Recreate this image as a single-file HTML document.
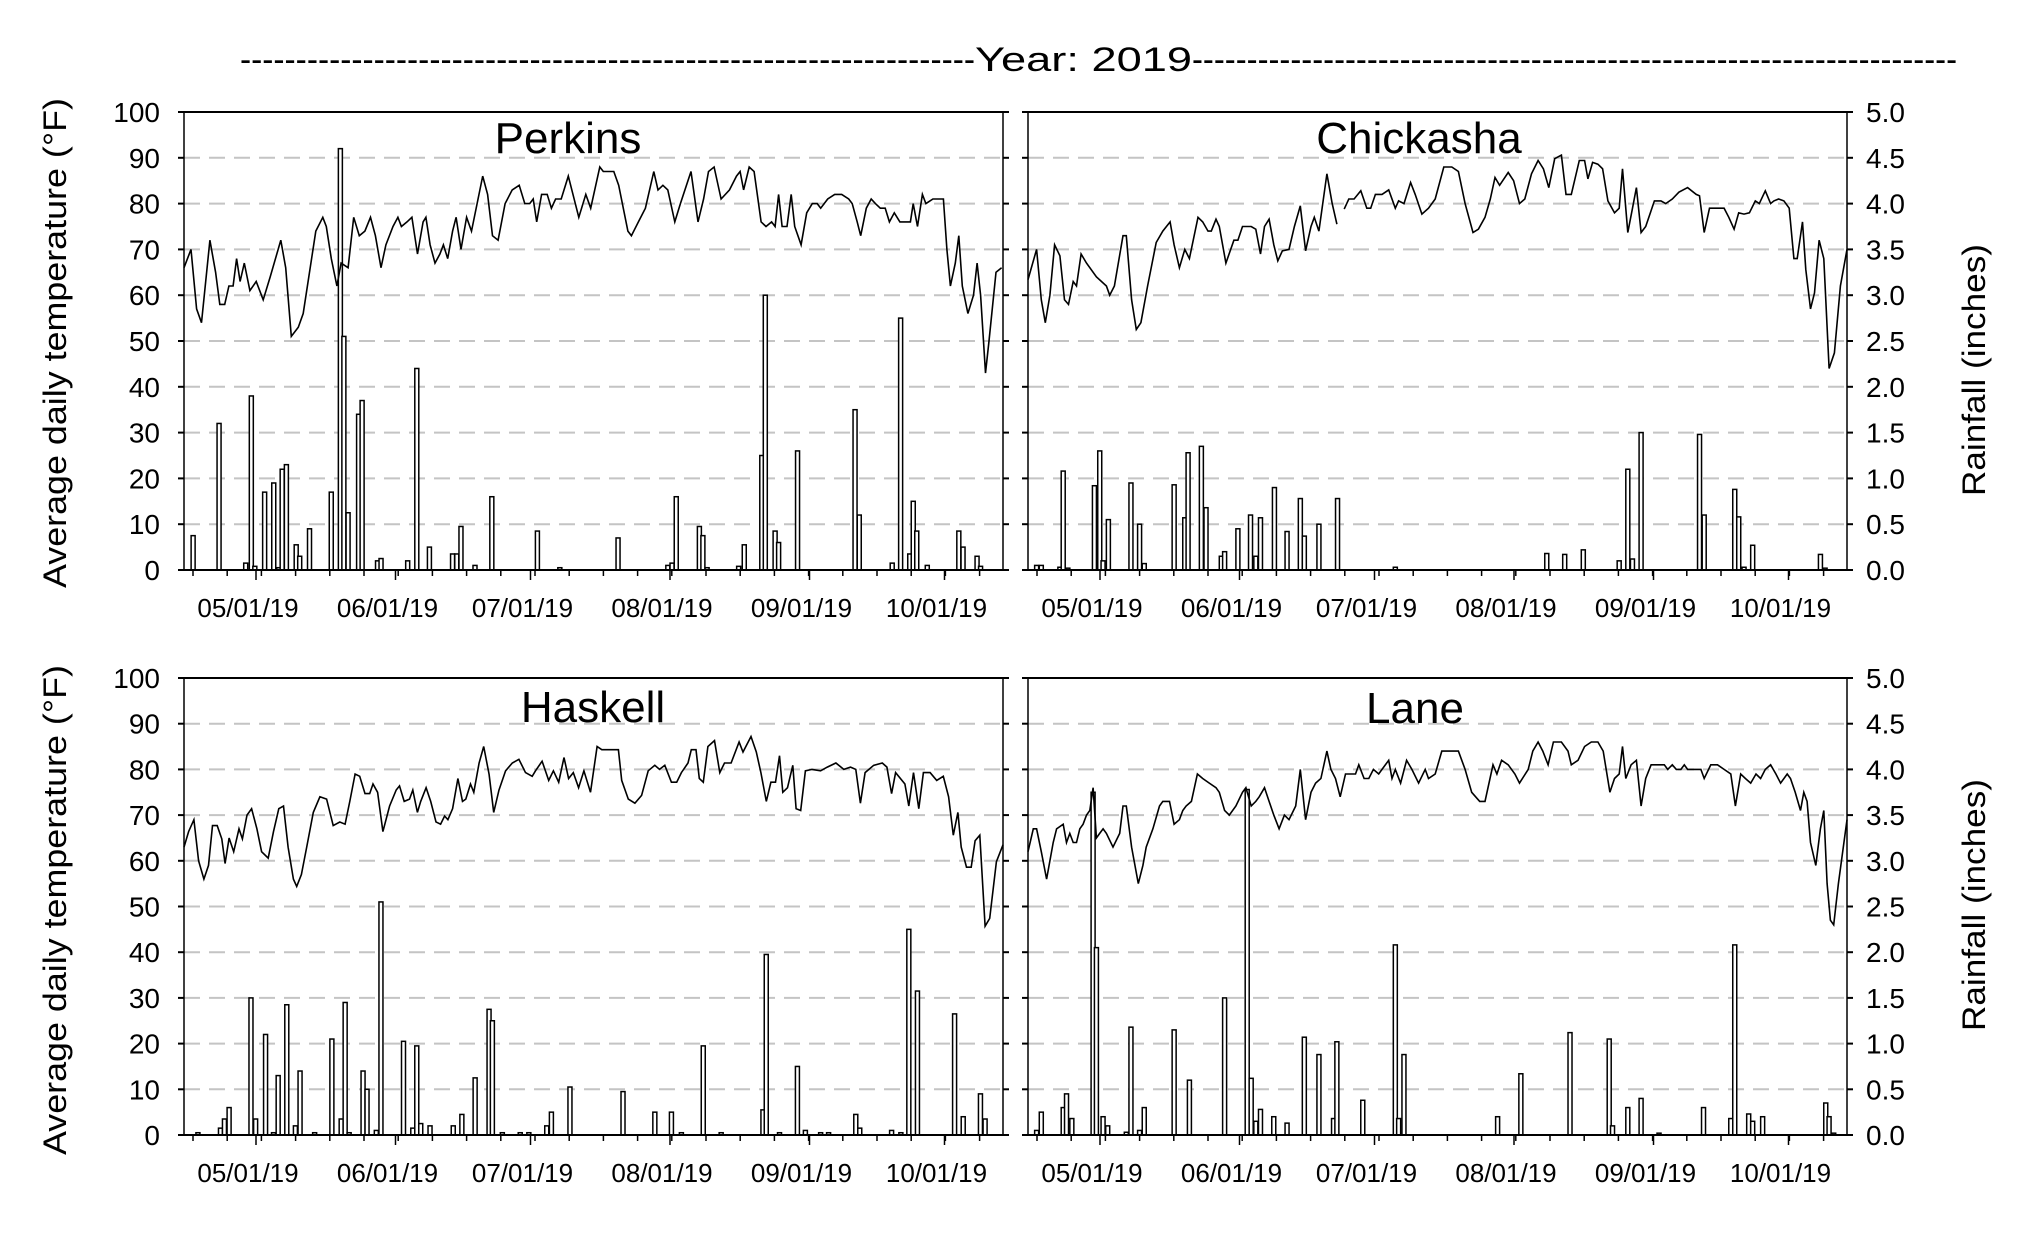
<!DOCTYPE html>
<html><head><meta charset="utf-8"><style>
html,body{margin:0;padding:0;background:#fff;}
svg{display:block;font-family:"Liberation Sans",Arial,sans-serif;}
</style></head><body>
<svg id="s" width="2042" height="1244" viewBox="0 0 2042 1244" xmlns="http://www.w3.org/2000/svg"></svg>
<script>
var S=document.getElementById('s');var out='';
function T(x,y,txt,sz,anchor,extra){out+='<text x="'+x+'" y="'+y+'" font-size="'+sz+'" text-anchor="'+(anchor||'start')+'" '+(extra||'')+'>'+txt+'</text>';}
// title
T(240,71,'-'.repeat(66),34,'start','textLength="735" lengthAdjust="spacingAndGlyphs"');
T(975,71,'Year: 2019',34,'start','textLength="217" lengthAdjust="spacingAndGlyphs"');
T(1192,71,'-'.repeat(70),34,'start','textLength="765" lengthAdjust="spacingAndGlyphs"');

var panels=[
 {name:'Perkins',L:184,R:1003,T:112,B:570,zl:262,zr:1430,tx:568,ty:153,unit:'t',
  temp:[[262,66],[272,70],[280,57],[287,54],[299,72],[307,65],[313,58],[320,58],[326,62],[332,62],[337,68],[342,63],[348,67],[356,61],[365,63],[375,59],[385,64],[400,72],[407,66],[415,51],[425,53],[432,56],[445,69],[450,74],[460,77],[465,75],[472,68],[480,62],[486,67],[496,66],[504,77],[512,73],[520,74],[528,77],[535,73],[543,66],[550,71],[560,75],[567,77],[572,75],[580,76],[587,77],[595,69],[603,76],[607,77],[613,71],[620,67],[627,69],[632,71],[638,68],[645,74],[650,77],[657,70],[665,77],[672,74],[680,80],[688,86],[695,82],[702,73],[710,72],[720,80],[730,83],[740,84],[748,80],[755,80],[760,81],[765,76],[772,82],[780,82],[786,79],[792,81],[800,81],[810,86],[820,80],[825,77],[835,82],[842,79],[855,88],[860,87],[875,87],[882,84],[895,74],[900,73],[910,76],[920,79],[932,87],[938,83],[945,84],[952,83],[962,76],[970,80],[985,87],[995,76],[1003,81],[1010,87],[1018,88],[1028,81],[1040,83],[1050,86],[1055,87],[1060,83],[1068,88],[1075,87],[1085,76],[1092,75],[1100,76],[1105,75],[1110,82],[1115,75],[1122,75],[1128,82],[1133,75],[1142,71],[1150,78],[1158,80],[1165,80],[1170,79],[1180,81],[1190,82],[1200,82],[1210,81],[1215,80],[1222,76],[1227,73],[1235,79],[1242,81],[1248,80],[1255,79],[1262,79],[1268,76],[1275,78],[1283,76],[1290,76],[1298,76],[1302,80],[1308,75],[1315,82],[1320,80],[1330,81],[1345,81],[1350,70],[1355,62],[1362,67],[1367,73],[1372,62],[1380,56],[1388,60],[1393,67],[1398,60],[1405,43],[1410,50],[1420,65],[1428,66]],
  bars:[[275,7.5],[312,32],[350,1.5],[358,38],[363,0.8],[377,17],[390,19],[397,0.5],[402,22],[408,23],[422,5.5],[427,3],[441,9],[472,17],[485,92],[490,51],[496,12.5],[511,34],[516,37],[538,2],[543,2.5],[581,2],[594,44],[612,5],[645,3.5],[651,3.5],[657,9.5],[677,1],[701,16],[766,8.5],[798,0.5],[881,7],[952,1],[958,1.5],[964,16],[997,9.5],[1002,7.5],[1008,0.5],[1053,0.8],[1061,5.5],[1086,25],[1091,60],[1105,8.5],[1110,6],[1137,26],[1219,35],[1225,12],[1272,1.5],[1284,55],[1297,3.5],[1302,15],[1307,8.5],[1322,1],[1367,8.5],[1373,5],[1393,3],[1398,0.8]]},
 {name:'Chickasha',L:1028,R:1847,T:112,B:570,zl:42,zr:1275,tx:1419,ty:153,gap:[507,518],
  temp:[[42,63.4],[55,70],[62,59],[68,54],[75,60],[82,71],[90,68.6],[97,59],[103,58],[110,63],[115,62],[122,69],[130,67],[145,64],[160,62],[165,60],[172,62],[185,73],[190,73],[198,59],[205,52.5],[212,54],[222,62],[235,71.5],[245,74],[256,76],[262,71],[270,66],[278,70],[285,68],[298,77],[305,76],[313,74],[318,74],[325,76.6],[330,75],[340,67],[352,72],[358,72],[365,75],[378,75],[385,74.4],[392,69],[398,75],[405,76.6],[412,71],[418,67.5],[425,69.7],[435,70],[443,75],[452,79.5],[460,69.7],[468,75],[473,77],[480,74],[492,86.5],[500,80],[507,75.5],[518,78.8],[525,81],[533,81],[543,82.8],[552,79],[558,79],[565,82],[575,82],[585,83],[595,79],[600,80.6],[608,80],[618,84.6],[625,82],[635,77.7],[645,79],[655,81],[668,88],[680,88],[690,87],[700,80],[712,73.7],[720,74.4],[730,77],[738,81],[745,85.7],[752,84],[765,86.8],[773,85],[782,80],[790,81],[800,86.5],[810,89.4],[818,87.6],[826,83.5],[835,89.8],[845,90.6],[852,82],[860,82],[872,89.4],[880,89.4],[885,85.4],[892,89],[900,88.6],[907,87.6],[915,80.6],[925,78],[932,79],[937,87.6],[945,73.7],[952,79],[958,83.5],[965,73.7],[972,75],[985,80.6],[995,80.6],[1002,80],[1012,81],[1022,82.5],[1035,83.5],[1048,82],[1053,81.7],[1060,73.7],[1068,79],[1080,79],[1090,79],[1097,77],[1105,74.4],[1112,78],[1120,77.7],[1128,78],[1137,80.6],[1143,80],[1152,82.8],[1160,80],[1165,80.6],[1172,81],[1180,80.6],[1188,79],[1195,68],[1200,68],[1208,76],[1213,65.6],[1220,57],[1226,60.5],[1233,72],[1240,68],[1248,44],[1256,47.4],[1265,62],[1275,70]],
  bars:[[55,1],[62,1],[90,0.6],[95,21.6],[102,0.4],[142,18.4],[150,26],[155,2],[163,11],[197,19],[210,10],[217,1.4],[262,18.6],[278,11.4],[283,25.6],[303,27],[310,13.6],[333,3],[338,4],[358,9],[377,12],[385,3],[392,11.4],[413,18],[432,8.4],[452,15.6],[458,7.4],[480,10],[508,15.6],[595,0.6],[823,3.6],[850,3.4],[878,4.4],[932,2],[945,22],[952,2.4],[965,30],[1053,29.6],[1060,12],[1106,17.6],[1112,11.6],[1120,0.6],[1133,5.4],[1235,3.4],[1242,0.4]]},
 {name:'Haskell',L:184,R:1003,T:678,B:1135,zl:275,zr:1510,tx:593,ty:722,
  temp:[[275,63],[282,66.4],[290,69],[297,60],[305,56],[312,59],[318,67.7],[325,67.7],[332,64.8],[337,59.4],[343,65],[350,62],[358,67],[363,64.8],[370,70],[377,71.4],[385,67],[392,62],[402,60.6],[410,66.4],[418,71.4],[425,72],[432,63],[440,56],[445,54.4],[452,57],[460,63],[470,70.6],[480,74],[490,73.5],[500,67.7],[510,68.5],[518,68],[525,73],[533,79],[540,78.5],[548,74.7],[555,74.7],[560,76.8],[567,75],[575,66.4],[585,72],[595,75.5],[600,76.4],[607,73],[615,73.5],[620,75.5],[627,70.6],[632,73],[640,76],[647,73],[655,68.5],[662,68],[668,69.8],[673,69],[680,71.4],[688,78],[695,73],[700,73.5],[707,76.8],[712,75],[720,81.4],[727,85],[735,78.9],[742,70.6],[750,75.5],[760,79.7],[770,81.4],[780,82.2],[790,79.3],[800,78.5],[805,79.7],[815,81.8],[825,77.6],[832,79.7],[840,77.2],[848,82.6],[855,78],[862,79.3],[870,76],[878,79.7],[888,75],[898,85],[905,84.3],[915,84.3],[930,84.3],[935,77.6],[945,73.5],[955,72.6],[965,74.3],[975,79.7],[985,80.9],[992,80],[1000,80.9],[1010,77.2],[1018,77.2],[1025,79.3],[1035,81.4],[1040,84.3],[1047,84.3],[1052,78],[1058,77.2],[1065,85],[1075,86.3],[1083,79.3],[1090,81.4],[1100,81.4],[1112,86],[1118,83.8],[1130,87.2],[1138,83.8],[1145,79.3],[1153,73],[1160,77.2],[1167,77.2],[1173,83],[1178,75],[1185,76],[1193,80.9],[1198,71.4],[1205,71],[1212,79.7],[1222,80],[1235,79.7],[1245,80.5],[1258,81.4],[1270,80],[1280,80.5],[1288,80],[1295,72.6],[1302,79.3],[1315,80.9],[1328,81.4],[1335,80.5],[1342,74.7],[1348,79.3],[1362,76.8],[1368,72],[1375,79.3],[1383,71.4],[1390,79.3],[1400,79.3],[1410,77.6],[1420,78.5],[1428,74],[1435,65.6],[1442,70.6],[1447,63],[1455,58.6],[1462,58.6],[1468,64.4],[1475,65.6],[1483,45.7],[1490,47.4],[1500,59.8],[1510,63.5]],
  bars:[[296,0.5],[330,1.5],[336,3.5],[343,6],[376,30],[383,3.5],[398,22],[410,0.5],[417,13],[430,28.5],[443,2],[450,14],[472,0.5],[498,21],[512,3.5],[518,29],[524,0.5],[545,14],[551,10],[565,1],[572,51],[606,20.5],[620,1.5],[626,19.5],[632,2.5],[646,2],[681,2],[694,4.5],[714,12.5],[735,27.5],[740,25],[755,0.5],[782,0.5],[795,0.5],[822,2],[829,5],[857,10.5],[937,9.5],[985,5],[1010,5],[1025,0.5],[1058,19.5],[1085,0.5],[1148,5.5],[1153,39.5],[1173,0.5],[1200,15],[1212,1],[1235,0.5],[1247,0.5],[1288,4.5],[1294,1.5],[1342,1],[1356,0.5],[1368,45],[1381,31.5],[1437,26.5],[1450,4],[1476,9],[1483,3.5]]},
 {name:'Lane',L:1028,R:1847,T:678,B:1135,zl:42,zr:1275,tx:1415,ty:723,
  temp:[[42,62],[50,67],[55,67],[62,62],[70,56],[80,64],[85,67],[95,68],[100,64],[105,66],[110,64],[115,64],[120,67],[125,68],[130,70],[135,71],[140,76],[145,65],[150,66],[155,67],[160,66],[170,63],[180,66],[185,72],[190,72],[198,63],[208,55],[215,59],[220,63],[230,67],[240,72],[245,73],[255,73],[262,68],[270,69],[275,71],[280,72],[288,73],[297,79],[305,78],[315,77],[325,76],[330,75],[338,71],[345,70],[355,72],[365,75],[370,76],[378,72],[385,73],[390,74],[398,76],[405,73],[412,70],[420,67],[428,70],[435,69],[445,72],[452,80],[460,69],[468,75],[475,77],[483,78],[492,84],[498,80],[505,78],[512,74],[520,79],[525,79],[535,79],[540,81],[548,78],[555,78],[562,80],[570,79],[575,80],[585,82],[590,78],[595,80],[603,77],[612,82],[620,80],[630,77],[640,80],[645,78],[655,79],[665,84],[675,84],[690,84],[700,80],[710,75],[722,73],[730,73],[742,81],[748,79],[755,82],[765,81],[775,79],[782,77],[795,80],[802,84],[810,86],[817,84],[825,81],[833,86],[845,86],[855,84],[860,81],[870,82],[880,85],[890,86],[900,86],[908,84],[918,75],[925,78],[932,79],[937,85],[942,78],[950,81],[958,82],[965,72],[972,78],[980,81],[990,81],[1000,81],[1005,80],[1012,81],[1018,80],[1025,80],[1030,81],[1035,80],[1045,80],[1055,80],[1060,78],[1070,81],[1080,81],[1090,80],[1100,79],[1107,72],[1115,79],[1122,78],[1130,77],[1138,79],[1145,78],[1152,80],[1160,81],[1168,79],[1175,77],[1185,79],[1190,78],[1197,75],[1205,71],[1210,75],[1215,73],[1220,64],[1228,59],[1235,67],[1240,71],[1245,55],[1250,47],[1255,46],[1262,55],[1275,69]],
  bars:[[55,1],[62,5],[95,6],[100,9],[108,3.6],[140,75],[145,41],[155,4],[162,2],[190,0.6],[197,23.6],[210,1],[217,6],[262,23],[285,12],[338,30],[372,75.6],[378,12.4],[385,3],[392,5.6],[412,4],[432,2.6],[458,21.4],[480,17.6],[502,3.6],[507,20.4],[546,7.6],[595,41.6],[600,3.6],[608,17.6],[749,4],[784,13.4],[858,22.4],[917,21],[922,2],[945,6],[965,8],[992,0.4],[1059,6],[1100,3.6],[1106,41.6],[1127,4.6],[1133,3],[1148,4],[1243,7],[1248,4],[1255,0.4]]}
];
var months=[['05/01/19',16],['06/01/19',47],['07/01/19',77],['08/01/19',108],['09/01/19',139],['10/01/19',169]];
panels.forEach(function(p){
  var W=p.R-p.L,H=p.B-p.T;
  function X(z){return p.L+(z-p.zl)/(p.zr-p.zl)*W;}
  function Y(v){return p.B-v/100*H;}
  for(var v=10;v<100;v+=10){out+='<line x1="'+p.L+'" x2="'+p.R+'" y1="'+Y(v)+'" y2="'+Y(v)+'" stroke="#c4c4c4" stroke-width="2" stroke-dasharray="16,9"/>';}
  p.bars.forEach(function(b){var x=X(b[0]),h=b[1]/100*H;out+='<rect x="'+(x-2)+'" y="'+(p.B-h)+'" width="4" height="'+h+'" fill="#fff" stroke="#000" stroke-width="1.5"/>';});
  var d='';p.temp.forEach(function(t,i){var cmd='L';if(i==0)cmd='M';if(p.gap&&t[0]==p.gap[1])cmd='M';d+=cmd+X(t[0]).toFixed(1)+','+Y(t[1]).toFixed(1);});
  out+='<path d="'+d+'" fill="none" stroke="#000" stroke-width="1.6"/>';
  out+='<line x1="'+p.L+'" x2="'+p.R+'" y1="'+p.T+'" y2="'+p.T+'" stroke="#000" stroke-width="2"/>';
  out+='<line x1="'+p.L+'" x2="'+p.R+'" y1="'+p.B+'" y2="'+p.B+'" stroke="#000" stroke-width="2"/>';
  out+='<line x1="'+p.L+'" x2="'+p.L+'" y1="'+p.T+'" y2="'+p.B+'" stroke="#000" stroke-width="1.5"/>';
  out+='<line x1="'+p.R+'" x2="'+p.R+'" y1="'+p.T+'" y2="'+p.B+'" stroke="#000" stroke-width="1.5"/>';
  for(var v=0;v<=100;v+=10){out+='<line x1="'+(p.L-6)+'" x2="'+p.L+'" y1="'+Y(v)+'" y2="'+Y(v)+'" stroke="#000" stroke-width="2"/><line x1="'+p.R+'" x2="'+(p.R+6)+'" y1="'+Y(v)+'" y2="'+Y(v)+'" stroke="#000" stroke-width="2"/>';}
  var pd=W/182;
  for(var dd=2;dd<=182;dd+=7.6){var x=p.L+dd*pd;out+='<line x1="'+x+'" x2="'+x+'" y1="'+p.B+'" y2="'+(p.B+6)+'" stroke="#000" stroke-width="1.5"/>';}
  months.forEach(function(m){var x=p.L+m[1]*pd;out+='<line x1="'+x+'" x2="'+x+'" y1="'+p.B+'" y2="'+(p.B+10)+'" stroke="#000" stroke-width="1.5"/>';T(x-8,p.B+47,m[0],26,'middle');});
  T(p.tx,p.ty,p.name,44,'middle');
  if(p.L<500){for(var v=0;v<=100;v+=10)T(160,Y(v)+10,v,28,'end');}
  else{for(var v=0;v<=100;v+=10)T(1866,Y(v)+10,(v/20).toFixed(1),28,'start');}
});
T(0,0,'Average daily temperature (°F)',32,'middle','transform="translate(66,343) rotate(-90)" textLength="490" lengthAdjust="spacingAndGlyphs"');
T(0,0,'Average daily temperature (°F)',32,'middle','transform="translate(66,910) rotate(-90)" textLength="490" lengthAdjust="spacingAndGlyphs"');
T(0,0,'Rainfall (inches)',32,'middle','transform="translate(1985,370) rotate(-90)" textLength="252" lengthAdjust="spacingAndGlyphs"');
T(0,0,'Rainfall (inches)',32,'middle','transform="translate(1985,905) rotate(-90)" textLength="252" lengthAdjust="spacingAndGlyphs"');
S.innerHTML=out;
</script>
</body></html>
